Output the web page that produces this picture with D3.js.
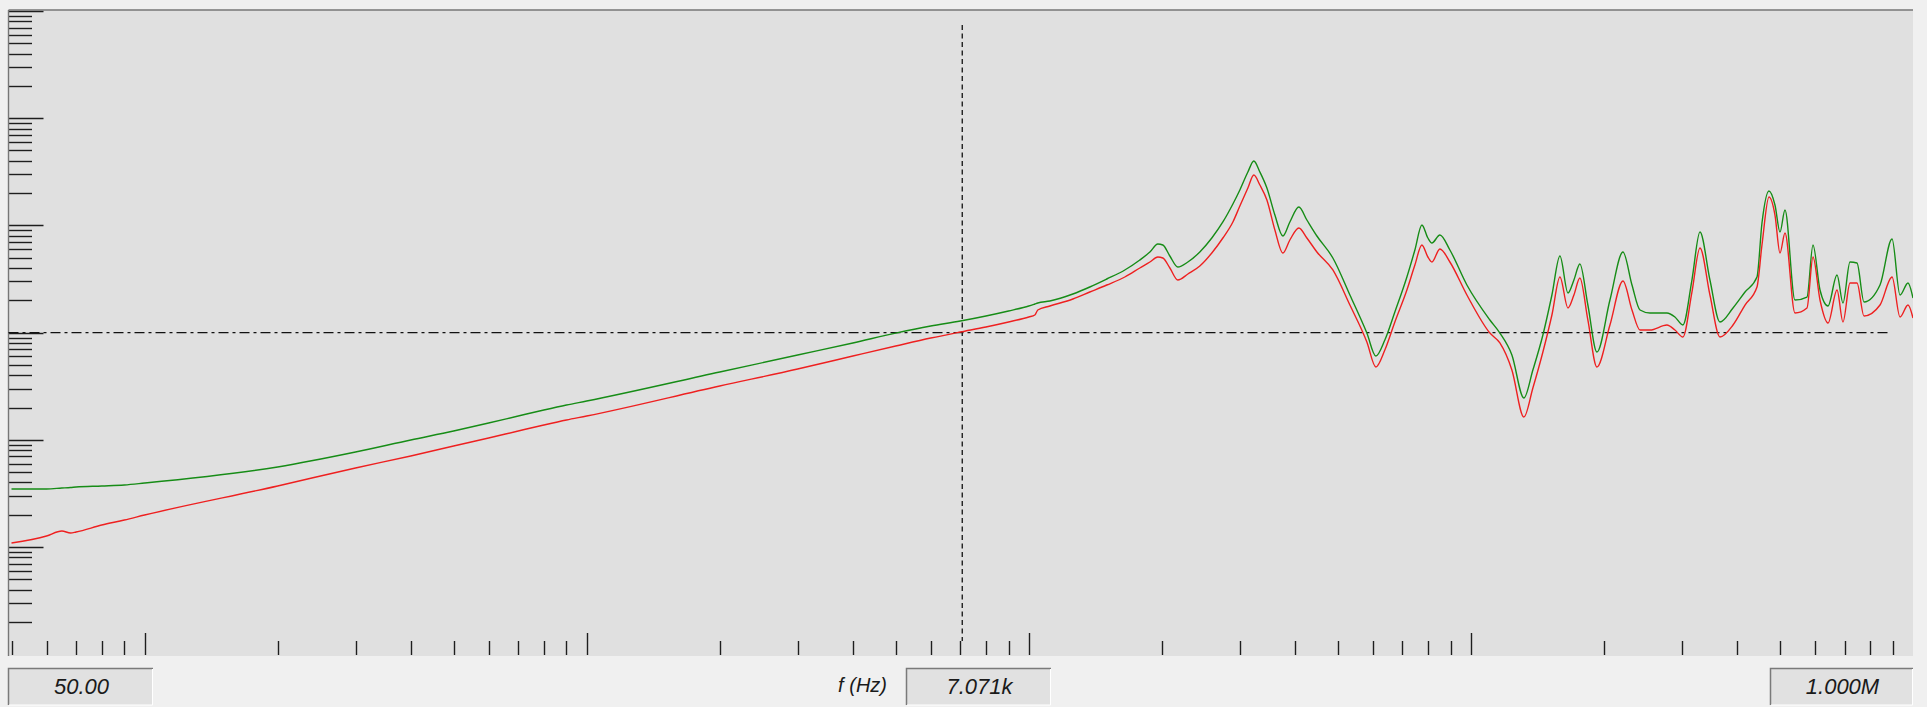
<!DOCTYPE html>
<html><head><meta charset="utf-8">
<script src="https://cdn.jsdelivr.net/npm/d3@7"></script>
<style>html,body{margin:0;padding:0;background:#f0f0f0;overflow:hidden}</style>
</head><body><svg id="c" width="1927" height="707"></svg>
<script>
// ---- data ----
const freqs = [50, 60, 65, 68, 70, 80, 90, 100, 200, 300, 400, 500, 600, 700, 800, 900, 1000, 2000, 3000, 4000, 5000, 6000, 7000, 8000, 9000, 10000,
  10320, 10480, 11160, 12580, 13740, 15010, 16490, 17830, 18790, 19580,
  20100, 20850, 21730, 22900, 24370, 25940, 27480, 28950, 30020, 31300,
  32290, 33320, 34560, 36030, 37560, 38950, 40820, 42560, 44840, 48730,
  53250, 58170, 60960, 63880, 67300, 71650, 74700, 77470, 79930, 81610,
  85090, 89640, 97940, 110400, 116300, 123800, 131800, 138100, 145500, 152500,
  159000, 165800, 171000, 176400, 183900, 192800, 206300, 220800, 231400, 241300,
  254100, 277600, 289400, 301700, 316200, 329700, 347300, 365900, 391600, 416900,
  443700, 455400, 472300, 487300, 500200, 513400, 540800, 575700, 594000, 616100,
  642300, 673200, 694400, 720300, 747000, 774800, 842100, 896600, 934600, 974300,
  1000000];
const greenValues = [0.0348, 0.0348, 0.0355, 0.0359, 0.0363, 0.0371, 0.0379, 0.0395, 0.0558, 0.0769, 0.0996, 0.1208, 0.1434, 0.1667, 0.1897, 0.2112, 0.2301, 0.429, 0.618, 0.800, 0.99, 1.152, 1.283, 1.429, 1.590, 1.771,
  1.848, 1.888, 1.971, 2.291, 2.663, 3.162, 3.837, 4.756, 5.648, 6.706,
  6.564, 5.183, 4.092, 4.556, 5.648, 7.630, 10.76, 15.83, 21.39, 31.49,
  39.88, 31.49, 22.33, 12.50, 7.964, 10.76, 14.85, 11.23, 7.964, 4.965,
  2.242, 0.99, 0.605, 0.853, 1.556, 3.301, 5.895, 10.09, 7.630, 6.851,
  8.137, 5.895, 2.780, 1.311, 0.99, 0.618, 0.2454, 0.4478, 0.950, 2.242,
  5.183, 2.341, 3.095, 4.364, 1.809, 0.659, 2.014, 5.648, 2.780, 1.625,
  1.523, 1.523, 1.398, 1.177, 3.095, 8.680, 3.095, 1.256, 1.696, 2.391,
  3.301, 10.53, 20.94, 15.50, 8.680, 13.92, 2.014, 2.148, 6.564, 2.496,
  1.771, 3.446, 1.888, 4.556, 4.459, 1.929, 2.780, 7.467, 2.242, 2.902,
  2.102];
const redValues = [0.0109, 0.01266, 0.0141, 0.01351, 0.0138, 0.01604, 0.01786, 0.01988, 0.0371, 0.0546, 0.0706, 0.0875, 0.1039, 0.1208, 0.1374, 0.1530, 0.1667, 0.3177, 0.4575, 0.605, 0.750, 0.890, 1.013, 1.128, 1.256, 1.398,
  1.459, 1.625, 1.771, 2.058, 2.391, 2.780, 3.301, 4.005, 4.556, 5.073,
  4.965, 4.005, 3.095, 3.521, 4.181, 5.528, 7.630, 10.76, 15.17, 22.33,
  29.52, 23.82, 17.26, 9.060, 5.528, 7.308, 9.456, 7.630, 5.648, 3.837,
  1.809, 0.817, 0.4777, 0.688, 1.256, 2.496, 4.272, 6.564, 5.073, 4.556,
  6.025, 4.556, 2.242, 0.99, 0.800, 0.4478, 0.1632, 0.3042, 0.659, 1.459,
  3.301, 1.696, 2.242, 3.231, 1.311, 0.4777, 1.177, 3.029, 1.625, 1.057,
  1.057, 1.177, 1.057, 0.910, 2.391, 6.155, 2.242, 0.910, 1.177, 1.809,
  2.663, 6.564, 18.40, 12.50, 5.528, 8.495, 1.523, 1.696, 5.073, 2.014,
  1.229, 2.496, 1.256, 2.902, 2.902, 1.429, 1.809, 3.301, 1.398, 1.809,
  1.368];
const xDomain = [50, 1e6];
const yDomain = [1e-3, 1e3];
const cursorFreq = 7071;
const refLevel = 1;
const readouts = ["50.00", "7.071k", "1.000M"];
const axisLabel = "f (Hz)";

// ---- layout ----
const svg = d3.select("#c");
const P = {left: 8.5, top: 10, right: 1913, bottom: 656};
const x = d3.scaleLog().domain(xDomain).range([11.5, 1913]);
const y = d3.scaleLog().domain(yDomain).range([654.2, 11]);

svg.append("rect").attr("width", 1927).attr("height", 707).attr("fill", "#f0f0f0");
svg.append("rect").attr("x", P.left).attr("y", P.top)
  .attr("width", P.right - P.left).attr("height", P.bottom - P.top).attr("fill", "#e0e0e0");

svg.append("defs").append("clipPath").attr("id", "clip").append("rect")
  .attr("x", P.left).attr("y", P.top).attr("width", P.right - P.left).attr("height", P.bottom - P.top);

const isMajor = v => Math.abs(Math.log10(v) - Math.round(Math.log10(v))) < 1e-9;

// y ticks (left)
const gy = svg.append("g");
y.ticks().filter(v => v > yDomain[0] * 1.0001).forEach(v => {
  gy.append("line").attr("x1", P.left).attr("x2", P.left + (isMajor(v) ? 35 : 23.5))
    .attr("y1", Math.round(y(v)) + 0.5).attr("y2", Math.round(y(v)) + 0.5)
    .attr("stroke", "#1e1e1e").attr("stroke-width", 1.4);
});
// x ticks (bottom)
const gx = svg.append("g");
x.ticks().filter(v => v < xDomain[1] * 0.999).forEach(v => {
  const xx = Math.round(x(v)) + 0.5;
  gx.append("line").attr("x1", xx).attr("x2", xx)
    .attr("y1", P.bottom - 1).attr("y2", P.bottom - 1 - (isMajor(v) ? 22 : 14))
    .attr("stroke", "#1e1e1e").attr("stroke-width", 1.4);
});

// borders
svg.append("line").attr("x1", P.left).attr("x2", P.left).attr("y1", P.top).attr("y2", P.bottom)
  .attr("stroke", "#777").attr("stroke-width", 1.4);
svg.append("line").attr("x1", P.left).attr("x2", P.right).attr("y1", P.top).attr("y2", P.top)
  .attr("stroke", "#777").attr("stroke-width", 1.4);

// reference line (dash-dot)
svg.append("line").attr("x1", P.left).attr("x2", 1891)
  .attr("y1", y(refLevel)).attr("y2", y(refLevel))
  .attr("stroke", "#111").attr("stroke-width", 1.3).attr("stroke-dasharray", "10,4,3,4");

// cursor line
svg.append("line").attr("x1", x(cursorFreq)).attr("x2", x(cursorFreq))
  .attr("y1", 25).attr("y2", 641)
  .attr("stroke", "#111").attr("stroke-width", 1.3).attr("stroke-dasharray", "5,3.5");

// curves
const line = d3.line().x(d => x(d[0])).y(d => y(d[1])).curve(d3.curveMonotoneX);
const gl = svg.append("g").attr("clip-path", "url(#clip)");
gl.append("path").attr("d", line(freqs.map((f, i) => [f, greenValues[i]])))
  .attr("fill", "none").attr("stroke", "#168c16").attr("stroke-width", 1.4);
gl.append("path").attr("d", line(freqs.map((f, i) => [f, redValues[i]])))
  .attr("fill", "none").attr("stroke", "#ee2020").attr("stroke-width", 1.4);

// readout boxes
const boxes = [{x: 8, w: 145}, {x: 906, w: 145}, {x: 1770, w: 143}];
boxes.forEach((b, i) => {
  const g = svg.append("g");
  g.append("rect").attr("x", b.x).attr("y", 668).attr("width", b.w).attr("height", 37).attr("fill", "#e1e1e1");
  g.append("path").attr("d", `M${b.x + 0.5},705 V668.5 H${b.x + b.w}`)
    .attr("fill", "none").attr("stroke", "#7a7a7a").attr("stroke-width", 1.5);
  g.append("path").attr("d", `M${b.x + 1},705 H${b.x + b.w - 0.5} V669`)
    .attr("fill", "none").attr("stroke", "#ffffff").attr("stroke-width", 1);
  g.append("text").attr("x", b.x + b.w / 2 + 1).attr("y", 693.5)
    .attr("text-anchor", "middle").attr("font-family", "Liberation Sans, Arial, sans-serif")
    .attr("font-style", "italic").attr("font-size", 22).attr("fill", "#1a1a1a").text(readouts[i]);
});
svg.append("text").attr("x", 887).attr("y", 692).attr("text-anchor", "end")
  .attr("font-family", "Liberation Sans, Arial, sans-serif").attr("font-style", "italic")
  .attr("font-size", 20).attr("fill", "#1a1a1a").text(axisLabel);
</script>
</body></html>
